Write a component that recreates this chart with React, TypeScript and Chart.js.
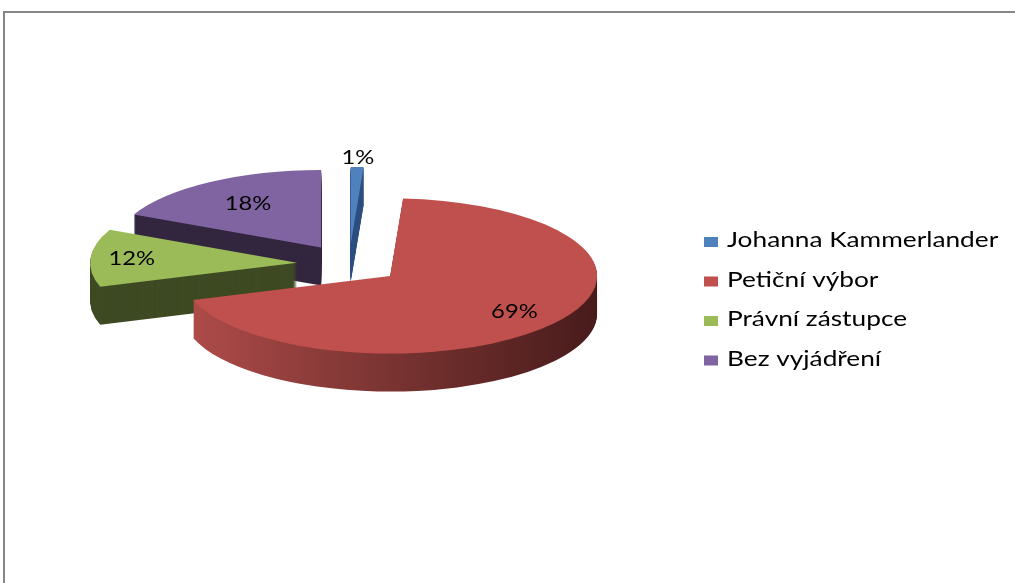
import React, { useEffect, useRef } from 'react';
import { Chart, registerables } from 'chart.js';

Chart.register(...registerables);

// ---- data ----
const categories = ['Johanna Kammerlander', 'Petiční výbor', 'Právní zástupce', 'Bez vyjádření'];
const shares = [1, 69, 12, 18];

// ---- style ----
const topColors = ['#4f81bd', '#c0504d', '#9bbb59', '#8064a2'];
const wallColors = ['#2e5080', '#7a3432', '#3e4a23', '#33263f'];
const redWallStops: [number, string][] = [
  [0, '#b04c4a'],
  [0.45, '#7e3634'],
  [1, '#481b1b'],
];
const labelRadius = [1.12, 0.76, 0.8, 0.66];

const CENTER_X = 349;
const CENTER_Y = 264;
const RADIUS = 207;
const TILT = 0.375;
const EXPLODE = 52;
const DEPTH = 38;
const TEXT_SX = 1.25;
const FONT = 'Lato, "Liberation Sans", Arial, sans-serif';

const pie3d = {
  id: 'pie3d',
  beforeDatasetsDraw(chart: any) {
    const ctx: CanvasRenderingContext2D = chart.ctx;
    const meta = chart.getDatasetMeta(0);
    const items = meta.data.map((a: any, i: number) => {
      const p = a.getProps(['x', 'y', 'startAngle', 'endAngle', 'outerRadius'], true);
      const mid = (p.startAngle + p.endAngle) / 2;
      return {
        a,
        p,
        i,
        mid,
        ex: p.x + Math.cos(mid) * EXPLODE,
        ey: p.y + Math.sin(mid) * EXPLODE * TILT,
      };
    });
    const order = [...items].sort((u: any, v: any) => Math.sin(u.mid) - Math.sin(v.mid));

    // side walls
    for (const it of order) {
      const { p, ex, ey, i } = it;
      const R = p.outerRadius;
      let fill: any = wallColors[i];
      if (i === 1) {
        const g = ctx.createLinearGradient(ex - R, 0, ex + R, 0);
        redWallStops.forEach(([o, c]) => g.addColorStop(o, c));
        fill = g;
      }
      ctx.save();
      ctx.fillStyle = fill;
      for (let d = DEPTH; d >= 1; d--) {
        ctx.beginPath();
        ctx.moveTo(ex, ey + d);
        ctx.ellipse(ex, ey + d, R, R * TILT, 0, p.startAngle, p.endAngle);
        ctx.closePath();
        ctx.fill();
      }
      ctx.restore();
    }

    // top faces, drawn by the arc elements themselves
    for (const it of order) {
      ctx.save();
      ctx.translate(it.ex, it.ey);
      ctx.scale(1, TILT);
      ctx.translate(-it.p.x, -it.p.y);
      it.a.draw(ctx);
      ctx.restore();
    }

    // percentage labels
    const data = chart.data.datasets[0].data as number[];
    const total = data.reduce((s, v) => s + v, 0);
    ctx.save();
    ctx.fillStyle = '#000';
    ctx.font = `19px ${FONT}`;
    ctx.textAlign = 'center';
    ctx.textBaseline = 'middle';
    for (const it of items) {
      const R = it.p.outerRadius * labelRadius[it.i];
      const lx = it.ex + Math.cos(it.mid) * R;
      const ly = it.ey + Math.sin(it.mid) * R * TILT;
      ctx.save();
      ctx.translate(lx, ly);
      ctx.scale(TEXT_SX, 1);
      ctx.fillText(Math.round((data[it.i] / total) * 100) + '%', 0, 0);
      ctx.restore();
    }
    ctx.restore();
    return false;
  },
  afterDraw(chart: any) {
    const ctx: CanvasRenderingContext2D = chart.ctx;
    const labels = chart.data.labels as string[];
    const colors = chart.data.datasets[0].backgroundColor as string[];
    ctx.save();
    ctx.font = `21px ${FONT}`;
    ctx.textBaseline = 'alphabetic';
    ctx.textAlign = 'left';
    labels.forEach((lab, i) => {
      const base = 247 + i * 39.5;
      ctx.fillStyle = colors[i];
      ctx.fillRect(704, base - 10, 14, 10);
      ctx.save();
      ctx.translate(727, base);
      ctx.scale(TEXT_SX, 1);
      ctx.fillStyle = '#000';
      ctx.fillText(lab, 0, 0);
      ctx.restore();
    });
    ctx.restore();
  },
};

export default function App() {
  const ref = useRef<HTMLCanvasElement>(null);
  useEffect(() => {
    const chart = new Chart(ref.current!, {
      type: 'pie',
      data: {
        labels: categories,
        datasets: [
          {
            data: shares,
            backgroundColor: topColors,
            borderWidth: 0,
            offset: 0,
            clip: false as any,
          } as any,
        ],
      },
      options: {
        animation: false,
        responsive: false,
        devicePixelRatio: 1,
        events: [],
        radius: RADIUS,
        layout: {
          padding: {
            left: 0,
            top: 0,
            right: 1015 - 2 * CENTER_X,
            bottom: 583 - 2 * CENTER_Y,
          },
        },
        plugins: {
          legend: { display: false },
          tooltip: { enabled: false },
          title: { display: false },
        },
      } as any,
      plugins: [pie3d],
    });
    return () => chart.destroy();
  }, []);

  return (
    <div
      style={{
        position: 'fixed',
        left: 0,
        top: 0,
        width: 1015,
        height: 583,
        overflow: 'hidden',
        background: '#fff',
      }}
    >
      <canvas
        ref={ref}
        width={1015}
        height={583}
        style={{ position: 'absolute', left: 0, top: 0, width: 1015, height: 583 }}
      />
      <div
        style={{
          position: 'absolute',
          left: 3,
          top: 11,
          width: 2000,
          height: 2000,
          borderTop: '2px solid #868686',
          borderLeft: '2px solid #868686',
        }}
      />
    </div>
  );
}
